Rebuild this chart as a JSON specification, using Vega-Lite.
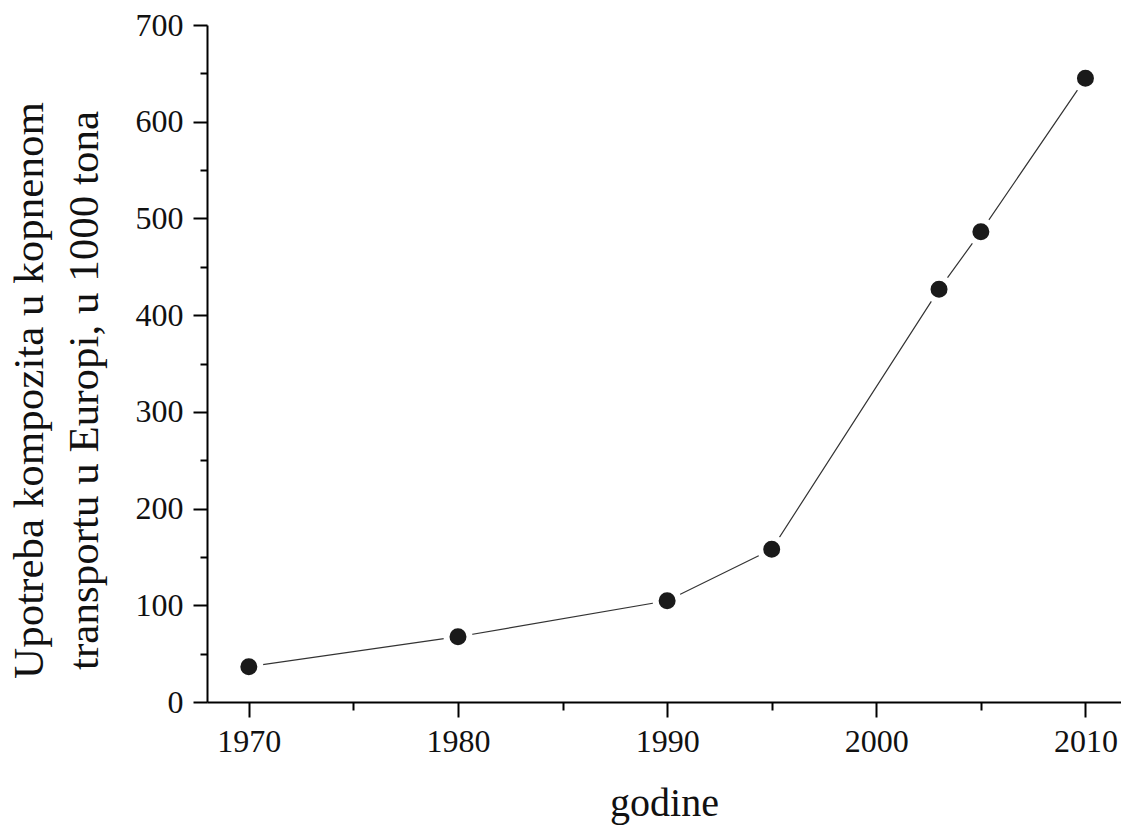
{
  "$schema": "https://vega.github.io/schema/vega-lite/v6.json",
  "width": 914,
  "height": 677,
  "autosize": {"type": "none"},
  "padding": {"left": 207, "top": 25, "right": 0, "bottom": 123},
  "background": "white",
  "config": {
    "view": {"stroke": null},
    "font": "Liberation Serif",
    "axis": {
      "domainColor": "#000000",
      "domainWidth": 2,
      "tickColor": "#000000",
      "tickWidth": 2,
      "labelColor": "#111111",
      "labelFont": "Liberation Serif",
      "labelFontSize": 32,
      "titleFont": "Liberation Serif",
      "titleFontWeight": "normal",
      "titleColor": "#111111",
      "grid": false
    }
  },
  "data": {
    "values": [
      {"godina": 1970, "tona": 36.5},
      {"godina": 1980, "tona": 67.5},
      {"godina": 1990, "tona": 104.7},
      {"godina": 1995, "tona": 157.9},
      {"godina": 2003, "tona": 426.7},
      {"godina": 2005, "tona": 486.3},
      {"godina": 2010, "tona": 644.9}
    ]
  },
  "layer": [
    {
      "mark": {"type": "line", "color": "#333333", "strokeWidth": 1.2},
      "encoding": {
        "x": {
          "field": "godina",
          "type": "quantitative",
          "scale": {"domain": [1968, 2011.7], "nice": false, "zero": false},
          "axis": {
            "orient": "bottom",
            "values": [1970, 1980, 1990, 2000, 2010],
            "format": "d",
            "tickSize": 15,
            "labelPadding": 9,
            "labelFlush": false,
            "labelOverlap": false,
            "title": "godine",
            "titleFontSize": 40,
            "titleBaseline": "alphabetic",
            "titleY": 113
          }
        },
        "y": {
          "field": "tona",
          "type": "quantitative",
          "scale": {"domain": [0, 700], "nice": false},
          "axis": {
            "orient": "left",
            "values": [0, 100, 200, 300, 400, 500, 600, 700],
            "tickSize": 14,
            "labelPadding": 10,
            "labelFlush": false,
            "labelOverlap": false,
            "title": ["Upotreba kompozita u kopnenom", "transportu u Europi, u 1000 tona"],
            "titleFontSize": 43,
            "titleLineHeight": 55,
            "titleAngle": -90,
            "titleAlign": "center",
            "titleBaseline": "alphabetic",
            "titleX": -165,
            "titleY": 365
          }
        }
      }
    },
    {
      "mark": {"type": "point", "filled": true, "shape": "circle", "color": "#1a1a1a", "opacity": 1, "stroke": "white", "strokeWidth": 6, "strokeOpacity": 1},
      "encoding": {
        "x": {
          "field": "godina",
          "type": "quantitative",
          "axis": {
            "orient": "bottom",
            "values": [1975, 1985, 1995, 2005],
            "tickSize": 8,
            "labels": false,
            "domain": false,
            "title": null
          }
        },
        "y": {
          "field": "tona",
          "type": "quantitative",
          "axis": {
            "orient": "left",
            "values": [50, 150, 250, 350, 450, 550, 650],
            "tickSize": 7,
            "labels": false,
            "domain": false,
            "title": null
          }
        },
        "size": {"value": 529}
      }
    }
  ],
  "resolve": {"axis": {"x": "independent", "y": "independent"}}
}
